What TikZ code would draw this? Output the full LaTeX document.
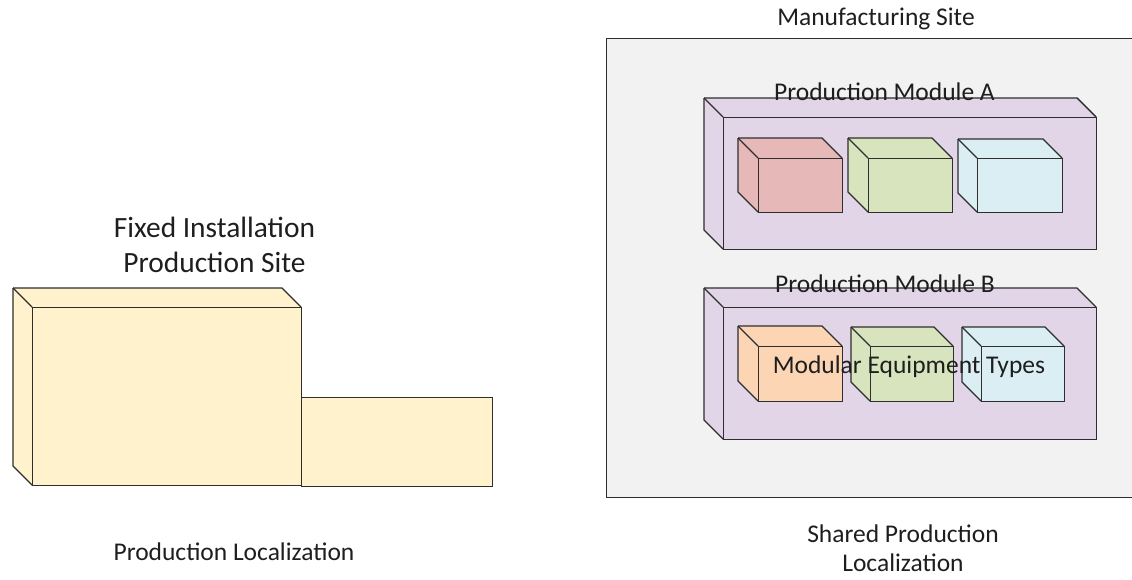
\documentclass[tikz,border=0pt]{standalone}
\usepackage{fontspec}
\setmainfont{Carlito}
\definecolor{sitefill}{HTML}{FFF2CC}
\definecolor{framefill}{HTML}{F2F2F2}
\definecolor{modfill}{HTML}{E1D5E7}
\definecolor{redfill}{HTML}{E6B8B7}
\definecolor{greenfill}{HTML}{D7E4BD}
\definecolor{bluefill}{HTML}{DAEEF3}
\definecolor{orangefill}{HTML}{FCD5B5}
\definecolor{edge}{HTML}{2E2E2E}
\definecolor{ink}{HTML}{1E1E1E}
\tikzset{
  face/.style={draw=edge, line width=1.4pt, line join=miter},
  lbl/.style={inner sep=0pt, align=center, text=ink, anchor=base},
  big/.style={font=\fontsize{25.5}{29}\selectfont},
}
% cuboid: name, front face corners (x1,y1) (x2,y2), depth, fill colour
\newcommand\cuboid[7]{%
  \fill[#7] (#2-#6,#3-#6) -- (#4-#6,#3-#6) -- (#4,#3) -- (#4,#5) -- (#2,#5) -- (#2-#6,#5-#6) -- cycle;
  \draw[face] (#2-#6,#3-#6) -- (#4-#6,#3-#6) -- (#4,#3);
  \draw[face] (#2-#6,#3-#6) -- (#2,#3);
  \draw[face] (#2-#6,#3-#6) -- (#2-#6,#5-#6) -- (#2,#5);
  \node[face, fill=#7, minimum width=#4-#2, minimum height=#5-#3, inner sep=0pt, anchor=north west] (#1) at (#2,#3) {};
}
\begin{document}
\begin{tikzpicture}[x=1pt,y=-1pt]
\useasboundingbox (0,0) rectangle (1132,579);

% fixed installation site (base anchor sits on the last line)
\node[face, fill=sitefill, minimum width=191, minimum height=89, inner sep=0pt, anchor=north west] (annex) at (301,397) {};
\cuboid{main}{32}{307}{301}{485}{19}{sitefill}
\node[lbl, font=\fontsize{29.4}{35}\selectfont] (fixlbl) at (214.5,272) {Fixed Installation\\Production Site};
\node[lbl, big] (loclbl) at (234,560) {Production Localization};

% shared manufacturing site
\node[face, fill=framefill, minimum width=528, minimum height=459, inner sep=0pt, anchor=north west] (frame) at (606,38) {};
\node[lbl, big] (framelbl) at (876,25) {Manufacturing Site};

\cuboid{modA}{723}{117}{1096}{249}{19}{modfill}
\cuboid{a1}{758}{158}{842}{212}{20}{redfill}
\cuboid{a2}{868}{158}{952}{212}{20}{greenfill}
\cuboid{a3}{977}{158}{1062}{212}{19}{bluefill}
\node[lbl, big] (modAlbl) at (884.5,100) {Production Module A};

\cuboid{modB}{723}{307}{1096}{439}{19}{modfill}
\cuboid{b1}{758}{346}{842}{401}{20}{orangefill}
\cuboid{b2}{870}{346}{953}{401}{19}{greenfill}
\cuboid{b3}{981}{346}{1064}{401}{19}{bluefill}
\node[lbl, big] (modBlbl) at (885,292) {Production Module B};
\node[lbl, big] (typelbl) at (909,373) {Modular Equipment Types};

\node[lbl, big] (sharedlbl) at (903,571) {Shared Production\\Localization};
\end{tikzpicture}
\end{document}
